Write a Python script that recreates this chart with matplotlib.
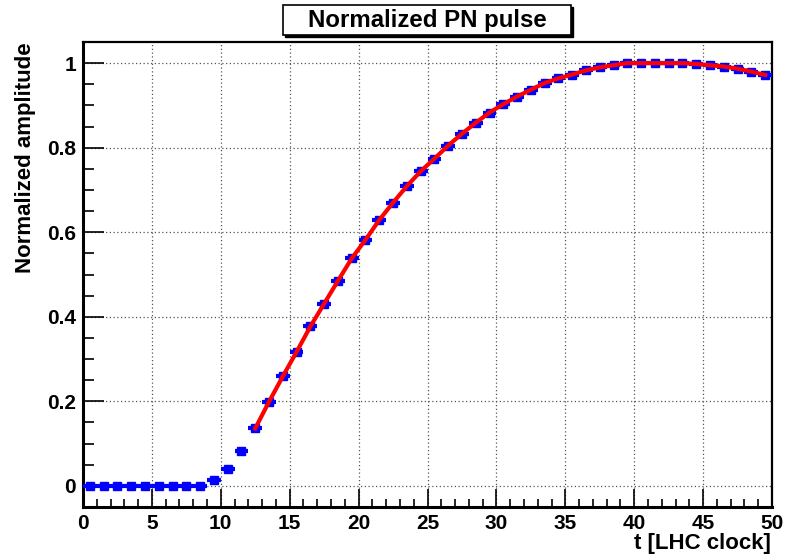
import numpy as np
import matplotlib
matplotlib.use("Agg")
import matplotlib.pyplot as plt
from matplotlib.patches import Rectangle
from matplotlib.ticker import MultipleLocator, FuncFormatter

# ---- data ----
bin_centers = np.arange(50) + 0.5
amplitude = [0, 0, 0, 0, 0, 0, 0, 0, 0,
             0.014, 0.040, 0.083, 0.136, 0.199, 0.259, 0.317, 0.377, 0.431,
             0.485, 0.538, 0.582, 0.629, 0.670, 0.709, 0.744, 0.774, 0.805,
             0.833, 0.859, 0.883, 0.903, 0.921, 0.937, 0.953, 0.964, 0.973,
             0.983, 0.990, 0.995, 1.000, 1.000, 1.000, 1.000, 1.000, 0.998,
             0.995, 0.992, 0.987, 0.980, 0.972]
fit_start_bin = 12
title = "Normalized PN pulse"
xlabel = "t [LHC clock]"
ylabel = "Normalized amplitude"
xticks = [0, 5, 10, 15, 20, 25, 30, 35, 40, 45, 50]
yticks = [0, 0.2, 0.4, 0.6, 0.8, 1.0]

plt.rcParams['font.family'] = ['Liberation Sans', 'DejaVu Sans']
plt.rcParams['font.weight'] = 'bold'

W, H = 792, 555
fig = plt.figure(figsize=(W / 100, H / 100), dpi=100)
ax = fig.add_axes([83 / W, 1 - 507 / H, (772 - 83) / W, (507 - 42) / H])

x = np.asarray(bin_centers)
y = np.asarray(amplitude)

ax.errorbar(x, y, xerr=0.5, fmt='s', color='#0000ff', ms=5.5, mec='#0000ff',
            elinewidth=3, capsize=0, zorder=3)
ax.plot(x[fit_start_bin:], y[fit_start_bin:], color='#ff0000', lw=3, zorder=4)

ax.set_xlim(0, 50)
ax.set_ylim(-0.05, 1.05)
ax.set_xticks(xticks)
ax.set_yticks(yticks)
ax.xaxis.set_minor_locator(MultipleLocator(1))
ax.yaxis.set_minor_locator(MultipleLocator(0.05))
ax.yaxis.set_major_formatter(FuncFormatter(lambda v, p: f"{v:g}"))

ax.grid(True, which='major', linestyle=(0, (1, 2)), color='#555555', lw=0.9)
ax.tick_params(axis='y', which='major', direction='in', length=15, width=1.2,
               labelsize=15, pad=5)
ax.tick_params(axis='y', which='minor', direction='in', length=8, width=1.2)
ax.tick_params(axis='x', which='major', direction='in', length=13, width=1.2,
               labelsize=15, pad=5)
ax.tick_params(axis='x', which='minor', direction='in', length=6, width=1.2)
for lab in ax.get_xticklabels() + ax.get_yticklabels():
    lab.set_fontweight('bold')

ax.spines['left'].set_linewidth(2.2)
ax.spines['bottom'].set_linewidth(2.2)
ax.spines['top'].set_linewidth(1.6)
ax.spines['right'].set_linewidth(1.6)

# title box with shadow
bx0, by0, bx1, by1 = 283, 5, 571, 35
fig.patches.append(Rectangle(((bx0 + 2) / W, 1 - (by1 + 2) / H), (bx1 - bx0) / W,
                             (by1 - by0) / H, transform=fig.transFigure,
                             facecolor='black', edgecolor='black', zorder=1))
fig.patches.append(Rectangle((bx0 / W, 1 - by1 / H), (bx1 - bx0) / W,
                             (by1 - by0) / H, transform=fig.transFigure,
                             facecolor='white', edgecolor='black', lw=1.2, zorder=2))
fig.text((bx0 + bx1) / 2 / W, 1 - 20.5 / H, title, ha='center', va='center',
         fontsize=17.3, fontweight='bold', zorder=3)

fig.text(26 / W, 1 - 42 / H, ylabel, rotation=90, ha='center', va='top',
         fontsize=16, fontweight='bold')
fig.text(771 / W, 1 - 544 / H, xlabel, ha='right', va='center',
         fontsize=16, fontweight='bold')

fig.savefig("out.png", dpi=100)
